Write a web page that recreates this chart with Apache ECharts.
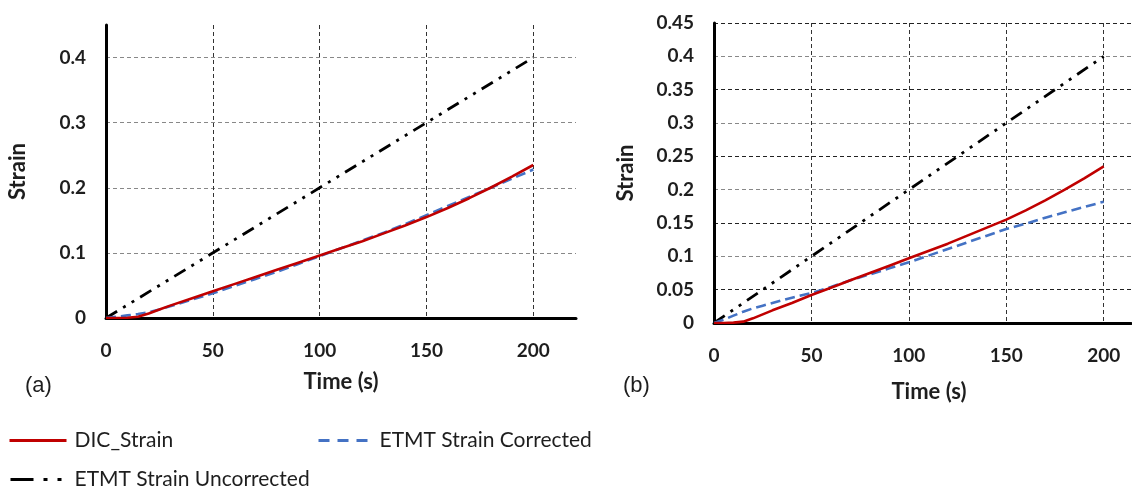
<!DOCTYPE html>
<html><head><meta charset="utf-8">
<script src="https://cdn.jsdelivr.net/npm/echarts@6/dist/echarts.min.js"></script>
<style>html,body{margin:0;padding:0;background:#fff}#c{width:1132px;height:487px}</style>
</head><body><div id="c"></div>
<script>
const seriesNames = ['DIC_Strain', 'ETMT Strain Corrected', 'ETMT Strain Uncorrected'];
const time = [0,5,10,15,20,25,30,40,50,60,70,80,90,100,110,120,130,140,150,160,170,180,190,200];
const dicA  = [0,0,0.0005,0.002,0.007,0.013,0.019,0.030,0.041,0.052,0.063,0.074,0.085,0.096,0.107,0.118,0.130,0.142,0.155,0.169,0.184,0.200,0.217,0.235];
const corrA = [0,0.002,0.004,0.006,0.009,0.013,0.018,0.028,0.038,0.049,0.060,0.071,0.083,0.095,0.107,0.119,0.131,0.144,0.158,0.172,0.186,0.200,0.214,0.228];
const dicB  = [0,0,0.0005,0.002,0.007,0.013,0.019,0.030,0.042,0.053,0.064,0.075,0.086,0.097,0.108,0.119,0.131,0.143,0.155,0.169,0.184,0.200,0.217,0.235];
const corrB = [0,0.005,0.011,0.017,0.022,0.026,0.030,0.038,0.045,0.054,0.064,0.073,0.082,0.091,0.101,0.111,0.121,0.131,0.141,0.149,0.158,0.166,0.174,0.182];
const timeUnc = [0, 200];
const uncA = [0, 0.4];
const uncB = [0, 0.4];
const yTicksA = ['0','0.1','0.2','0.3','0.4'];
const panelLabels = ['(a)', '(b)'];

const zip = (xs, ys) => xs.map((x, i) => [x, ys[i]]);
const FONT = 'Lato';
const TXT = '#1e1e1e';

const red = {color: '#c00000', width: 2.6, type: 'solid'};
const blue = {color: '#4472c4', width: 2.6, type: [10, 5]};
const blk = {color: '#000000', width: 2.8, type: [13, 7, 3, 7, 3, 7]};

function mkSeries(name, data, idx, ls, z) {
  return {name, type: 'line', xAxisIndex: idx, yAxisIndex: idx, data, showSymbol: false, symbol: 'none',
    lineStyle: ls, itemStyle: {color: ls.color}, z, smooth: false};
}

const axisLine = {show: true, onZero: false, lineStyle: {color: '#000', width: 3}};
const labelStyle = {color: TXT, fontFamily: FONT, fontWeight: 'bold', fontSize: 19};
const nameStyle = {color: TXT, fontFamily: FONT, fontWeight: 'bold', fontSize: 22};
const legendText = {fontFamily: FONT, fontSize: 21, color: TXT};

const option = {
  animation: false,
  backgroundColor: '#fff',
  textStyle: {fontFamily: FONT},
  title: [
    {text: panelLabels[0], left: 20, top: 370, textStyle: {fontFamily: 'Liberation Sans', fontWeight: 'normal', fontSize: 22, color: TXT}},
    {text: panelLabels[1], left: 618, top: 370, textStyle: {fontFamily: 'Liberation Sans', fontWeight: 'normal', fontSize: 22, color: TXT}}
  ],
  grid: [
    {left: 106, top: 25, width: 470, height: 293, containLabel: false},
    {left: 714, top: 23, width: 417, height: 300, containLabel: false}
  ],
  xAxis: [
    {gridIndex: 0, type: 'value', min: 0, max: 220, interval: 50,
     name: 'Time (s)', nameLocation: 'middle', nameGap: 53, nameTextStyle: nameStyle,
     axisLine, axisTick: {show: false},
     axisLabel: Object.assign({margin: 23, showMaxLabel: false}, labelStyle),
     splitLine: {show: true, showMaxLine: false, lineStyle: {color: '#333', type: [4, 3], width: 1}}},
    {gridIndex: 1, type: 'value', min: 0, max: 214, interval: 50,
     name: 'Time (s)', nameLocation: 'middle', nameGap: 58, nameTextStyle: Object.assign({padding: [0, 0, 0, 13]}, nameStyle),
     axisLine, axisTick: {show: false},
     axisLabel: Object.assign({margin: 23, showMaxLabel: false}, labelStyle),
     splitLine: {show: true, showMaxLine: false, lineStyle: {color: '#333', type: [4, 3], width: 1}}}
  ],
  yAxis: [
    {gridIndex: 0, type: 'value', min: 0, max: 0.45, interval: 0.1,
     name: 'Strain', nameLocation: 'middle', nameGap: 77, nameTextStyle: nameStyle,
     axisLine, axisTick: {show: false},
     axisLabel: Object.assign({margin: 20, showMaxLabel: false, formatter: v => yTicksA[Math.round(v * 10)] || ''}, labelStyle),
     splitLine: {show: true, showMaxLine: false, lineStyle: {color: '#888', type: [4, 3], width: 1}}},
    {gridIndex: 1, type: 'value', min: 0, max: 0.45, interval: 0.05,
     name: 'Strain', nameLocation: 'middle', nameGap: 77, nameTextStyle: nameStyle,
     axisLine, axisTick: {show: false},
     axisLabel: Object.assign({margin: 20}, labelStyle),
     splitLine: {show: true, showMaxLine: true, lineStyle: {color: ['#888', '#222'], type: [4, 3], width: 1}}}
  ],
  legend: [
    {data: [seriesNames[0]], left: 8, top: 430, padding: 0, itemWidth: 57, itemHeight: 14,
     itemStyle: {opacity: 0}, lineStyle: {width: 3, type: 'solid'},
     textStyle: Object.assign({padding: [0, 0, 0, 3]}, legendText)},
    {data: [seriesNames[1]], left: 317, top: 430, padding: 0, itemWidth: 55, itemHeight: 14,
     itemStyle: {opacity: 0}, lineStyle: {width: 3, type: [11, 8]},
     textStyle: Object.assign({padding: [0, 0, 0, 1]}, legendText)},
    {data: [seriesNames[2]], left: 9, top: 469, padding: 0, itemWidth: 56, itemHeight: 14,
     itemStyle: {opacity: 0}, lineStyle: {width: 3, type: [23, 10, 4, 10, 4, 10]},
     textStyle: Object.assign({padding: [0, 0, 0, 3]}, legendText)}
  ],
  series: [
    mkSeries(seriesNames[2], zip(timeUnc, uncA), 0, blk, 3),
    mkSeries(seriesNames[1], zip(time, corrA), 0, blue, 4),
    mkSeries(seriesNames[0], zip(time, dicA), 0, red, 5),
    mkSeries(seriesNames[2], zip(timeUnc, uncB), 1, blk, 3),
    mkSeries(seriesNames[1], zip(time, corrB), 1, blue, 4),
    mkSeries(seriesNames[0], zip(time, dicB), 1, red, 5)
  ]
};
const chart = echarts.init(document.getElementById('c'), null, {renderer: 'canvas'});
chart.setOption(option);
</script></body></html>
